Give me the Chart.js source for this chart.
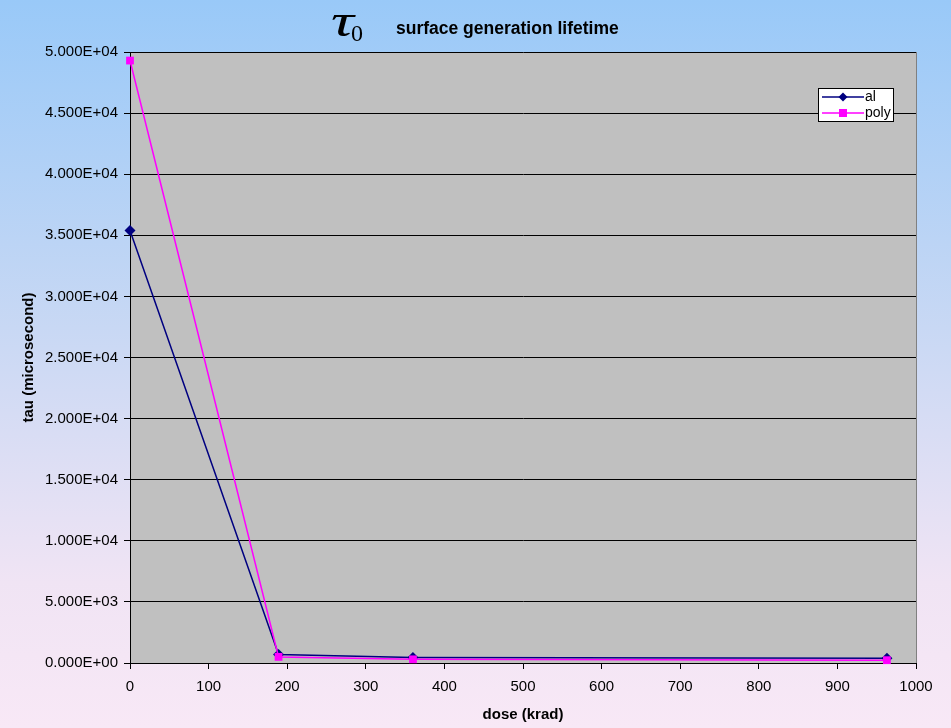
<!DOCTYPE html>
<html lang="en">
<head>
  <meta charset="UTF-8" />
  <title>surface generation lifetime</title>
  <script src="https://cdn.jsdelivr.net/npm/chart.js"></script>
  <style>
    html, body { margin: 0; padding: 0; }
    body {
      width: 951px; height: 728px; overflow: hidden;
      background: linear-gradient(to bottom, #99c9f8 0%, #c8d8f4 45%, #f0e4f4 80%, #f8e8f6 100%);
    }
    .wrap { position: relative; width: 951px; height: 728px; }
  </style>
</head>
<body>
  <div class="wrap"><canvas id="tauChart" width="951" height="728"></canvas></div>

  <script>
    // dose (krad)
    const doseAl = [0, 189, 360, 963];
    const doseAl_tau = [35400, 700, 450, 380];
    const dosePoly = [0, 189, 360, 963];
    const dosePoly_tau = [49300, 500, 300, 230];

    const xTicks = [0, 100, 200, 300, 400, 500, 600, 700, 800, 900, 1000];
    const yMax = 50000, yStep = 5000;

    const FONT = "'Liberation Sans', Arial, sans-serif";

    function sci(v) {
      if (v === 0) return "0.000E+00";
      const e = Math.floor(Math.log10(Math.abs(v)));
      const m = (v / Math.pow(10, e)).toFixed(3);
      return m + "E" + (e < 0 ? "-" : "+") + String(Math.abs(e)).padStart(2, "0");
    }

    const toPts = (xs, ys) => xs.map((x, i) => ({ x: x, y: ys[i] }));

    // title, plot frame and legend box
    const decor = {
      id: "decor",
      beforeDraw(chart) {
        const { ctx, chartArea: a } = chart;
        ctx.save();
        ctx.fillStyle = "#c0c0c0";
        ctx.fillRect(a.left, a.top, a.right - a.left, a.bottom - a.top);
        ctx.restore();
      },
      afterDraw(chart) {
        const { ctx, chartArea: a } = chart;
        ctx.save();
        ctx.strokeStyle = "#808080";
        ctx.lineWidth = 1;
        ctx.beginPath();
        ctx.moveTo(a.right + 0.5, a.top);
        ctx.lineTo(a.right + 0.5, a.bottom);
        ctx.stroke();

        // title
        ctx.fillStyle = "#000";
        ctx.textBaseline = "alphabetic";
        ctx.save();
        ctx.translate(331, 36);
        ctx.scale(1.45, 1.05);
        ctx.font = "italic 44px 'Liberation Serif', 'DejaVu Serif', serif";
        ctx.fillText("\u03C4", 0, 0);
        ctx.restore();
        ctx.font = "24px 'Liberation Serif', 'DejaVu Serif', serif";
        ctx.fillText("0", 351, 41);
        ctx.font = "bold 17.5px " + FONT;
        ctx.fillText("surface generation lifetime", 396, 34);

        // legend
        const lx = 818, ly = 88, lw = 75, lh = 33;
        ctx.fillStyle = "#fff";
        ctx.fillRect(lx, ly, lw, lh);
        ctx.strokeStyle = "#000";
        ctx.strokeRect(lx + 0.5, ly + 0.5, lw, lh);
        ctx.font = "14px " + FONT;
        ctx.textBaseline = "middle";
        chart.data.datasets.forEach((ds, i) => {
          const y = ly + 9 + i * 16;
          ctx.strokeStyle = ds.borderColor;
          ctx.lineWidth = 1.5;
          ctx.beginPath();
          ctx.moveTo(lx + 4, y);
          ctx.lineTo(lx + 46, y);
          ctx.stroke();
          ctx.fillStyle = ds.backgroundColor;
          const cx = lx + 25;
          if (ds.pointStyle === "rectRot") {
            ctx.beginPath();
            ctx.moveTo(cx, y - 4.5); ctx.lineTo(cx + 4.5, y); ctx.lineTo(cx, y + 4.5); ctx.lineTo(cx - 4.5, y);
            ctx.closePath(); ctx.fill();
          } else {
            ctx.fillRect(cx - 4, y - 4, 8, 8);
          }
          ctx.fillStyle = "#000";
          ctx.fillText(ds.label, lx + 47, y);
        });
        ctx.restore();
      }
    };

    new Chart(document.getElementById("tauChart"), {
      type: "scatter",
      data: {
        datasets: [
          {
            label: "al",
            data: toPts(doseAl, doseAl_tau),
            order: 1,
            showLine: true,
            clip: false,
            borderColor: "#000080",
            backgroundColor: "#000080",
            borderWidth: 1.5,
            pointStyle: "rectRot",
            pointRadius: 5.5,
            pointBorderWidth: 0
          },
          {
            label: "poly",
            data: toPts(dosePoly, dosePoly_tau),
            order: 0,
            showLine: true,
            clip: false,
            borderColor: "#ff00ff",
            backgroundColor: "#ff00ff",
            borderWidth: 1.5,
            pointStyle: "rect",
            pointRadius: 5.5,
            pointBorderWidth: 0
          }
        ]
      },
      options: {
        responsive: false,
        animation: false,
        layout: { padding: { top: 52, right: 35, left: 0, bottom: 0 } },
        plugins: { legend: { display: false }, tooltip: { enabled: false } },
        scales: {
          x: {
            type: "linear",
            min: 0, max: 1000,
            afterBuildTicks: s => { s.ticks = xTicks.map(v => ({ value: v })); },
            afterFit: s => { s.height = 65; },
            grid: { display: true, drawOnChartArea: false, color: "#000", tickLength: 6 },
            border: { color: "#000", width: 1 },
            ticks: { color: "#000", callback: v => String(v), font: { family: FONT, size: 15 }, padding: 9, maxRotation: 0 },
            title: { display: true, text: "dose (krad)", color: "#000", font: { family: FONT, size: 15, weight: "bold" }, padding: { top: 6 } }
          },
          y: {
            min: 0, max: yMax,
            ticks: { stepSize: yStep, color: "#000", callback: v => sci(v), font: { family: FONT, size: 15 }, padding: 6 },
            afterFit: s => { s.width = 130; },
            grid: { color: "#000", lineWidth: 1, tickLength: 6 },
            border: { color: "#000", width: 1 },
            title: { display: true, text: "tau (microsecond)", color: "#000", font: { family: FONT, size: 15, weight: "bold" }, padding: { top: 20, bottom: 0 } }
          }
        }
      },
      plugins: [decor]
    });
  </script>
</body>
</html>
